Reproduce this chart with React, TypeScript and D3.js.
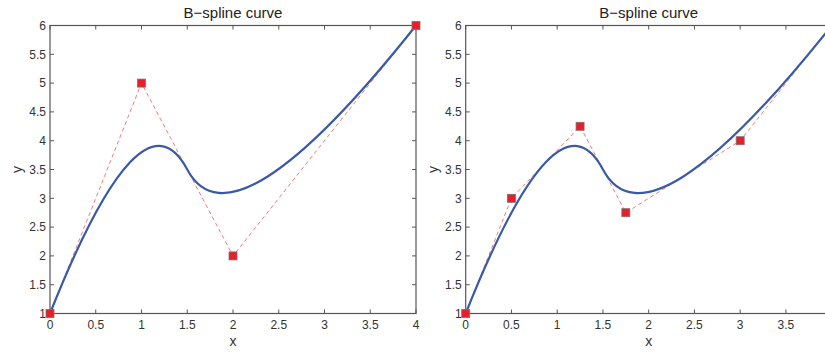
import React, { useEffect, useRef } from "react";
import * as d3 from "d3";

// control polygon of the quadratic B-spline, knots [0,0,0,.5,1,1,1]
const ctrlX = [0, 1, 2, 4];
const ctrlY = [1, 5, 2, 6];
// same curve after inserting knots 0.25 and 0.75
const refinedX = [0, 0.5, 1.25, 1.75, 3, 4];
const refinedY = [1, 3, 4.25, 2.75, 4, 6];

const xTicks = [0, 0.5, 1, 1.5, 2, 2.5, 3, 3.5, 4];
const yTicks = [1, 1.5, 2, 2.5, 3, 3.5, 4, 4.5, 5, 5.5, 6];
const title = "B\u2212spline curve";

const W = 825;
const H = 353;

const App: React.FC = () => {
  const svgRef = useRef<SVGSVGElement | null>(null);

  useEffect(() => {
    const svg = d3.select(svgRef.current);
    svg.selectAll("*").remove();
    svg.attr("width", W).attr("height", H);

    const top = 25.5;
    const bottom = 313.5;
    const plotW = 366;

    const drawPanel = (left: number, px: number[], py: number[]) => {
      const x = d3.scaleLinear().domain([0, 4]).range([left, left + plotW]);
      const y = d3.scaleLinear().domain([1, 6]).range([bottom, top]);
      const g = svg.append("g");
      const axisCol = "#555";

      // frame
      g.append("rect")
        .attr("x", left)
        .attr("y", top)
        .attr("width", plotW)
        .attr("height", bottom - top)
        .attr("fill", "none")
        .attr("stroke", axisCol)
        .attr("stroke-width", 1.2);

      // ticks (inward, on all sides)
      xTicks.forEach(t => {
        g.append("line").attr("x1", x(t)).attr("x2", x(t)).attr("y1", bottom).attr("y2", bottom - 4).attr("stroke", axisCol);
        g.append("line").attr("x1", x(t)).attr("x2", x(t)).attr("y1", top).attr("y2", top + 4).attr("stroke", axisCol);
        // the right panel runs past the picture edge, its last label is not visible
        if (x(t) > W - 4) return;
        g.append("text")
          .attr("x", x(t))
          .attr("y", bottom + 15)
          .attr("text-anchor", "middle")
          .style("font-family", "Liberation Sans, Arial, sans-serif")
          .style("font-size", "12px")
          .attr("fill", "#333")
          .text(String(t));
      });
      yTicks.forEach(t => {
        g.append("line").attr("x1", left).attr("x2", left + 4).attr("y1", y(t)).attr("y2", y(t)).attr("stroke", axisCol);
        g.append("line").attr("x1", left + plotW).attr("x2", left + plotW - 4).attr("y1", y(t)).attr("y2", y(t)).attr("stroke", axisCol);
        g.append("text")
          .attr("x", left - 4)
          .attr("y", y(t) + 4.3)
          .attr("text-anchor", "end")
          .style("font-family", "Liberation Sans, Arial, sans-serif")
          .style("font-size", "12px")
          .attr("fill", "#333")
          .text(String(t));
      });

      // labels
      g.append("text")
        .attr("x", left + plotW / 2)
        .attr("y", 18)
        .attr("text-anchor", "middle")
        .style("font-family", "Liberation Sans, Arial, sans-serif")
        .style("font-size", "15px")
        .attr("fill", "#222")
        .text(title);
      g.append("text")
        .attr("x", left + plotW / 2)
        .attr("y", 346)
        .attr("text-anchor", "middle")
        .style("font-family", "Liberation Sans, Arial, sans-serif")
        .style("font-size", "14px")
        .attr("fill", "#333")
        .text("x");
      g.append("text")
        .attr("transform", `translate(${left - 28},${(top + bottom) / 2}) rotate(-90)`)
        .attr("text-anchor", "middle")
        .style("font-family", "Liberation Sans, Arial, sans-serif")
        .style("font-size", "14px")
        .attr("fill", "#333")
        .text("y");

      const clipId = `clip${Math.round(left)}`;
      svg.append("clipPath").attr("id", clipId)
        .append("rect").attr("x", left - 6).attr("y", top - 6).attr("width", plotW + 12).attr("height", bottom - top + 12);
      const plot = g.append("g").attr("clip-path", `url(#${clipId})`);

      // control polygon
      const pts = px.map((v, i) => [v, py[i]] as [number, number]);
      const line = d3.line<[number, number]>().x(d => x(d[0])).y(d => y(d[1]));
      plot.append("path")
        .attr("d", line(pts))
        .attr("fill", "none")
        .attr("stroke", "#f07a7a")
        .attr("stroke-width", 1)
        .attr("stroke-dasharray", "4,3");

      // B-spline as two quadratic Bezier pieces of the original polygon
      const mx = (ctrlX[1] + ctrlX[2]) / 2;
      const my = (ctrlY[1] + ctrlY[2]) / 2;
      const p = d3.path();
      p.moveTo(x(ctrlX[0]), y(ctrlY[0]));
      p.quadraticCurveTo(x(ctrlX[1]), y(ctrlY[1]), x(mx), y(my));
      p.quadraticCurveTo(x(ctrlX[2]), y(ctrlY[2]), x(ctrlX[3]), y(ctrlY[3]));
      plot.append("path")
        .attr("d", p.toString())
        .attr("fill", "none")
        .attr("stroke", "#3a5aa8")
        .attr("stroke-width", 2.2);

      // markers
      plot.selectAll("rect.m")
        .data(pts)
        .join("rect")
        .attr("class", "m")
        .attr("x", d => x(d[0]) - 4)
        .attr("y", d => y(d[1]) - 4)
        .attr("width", 8)
        .attr("height", 8)
        .attr("fill", "#e5202a")
        .attr("stroke", "#8a6a6a")
        .attr("stroke-width", 0.8);
    };

    drawPanel(50, ctrlX, ctrlY);
    drawPanel(465.7, refinedX, refinedY);
  }, []);

  return (
    <svg
      ref={svgRef}
      style={{ position: "absolute", left: 0, top: 0, background: "#fff" }}
    ></svg>
  );
};

export default App;
